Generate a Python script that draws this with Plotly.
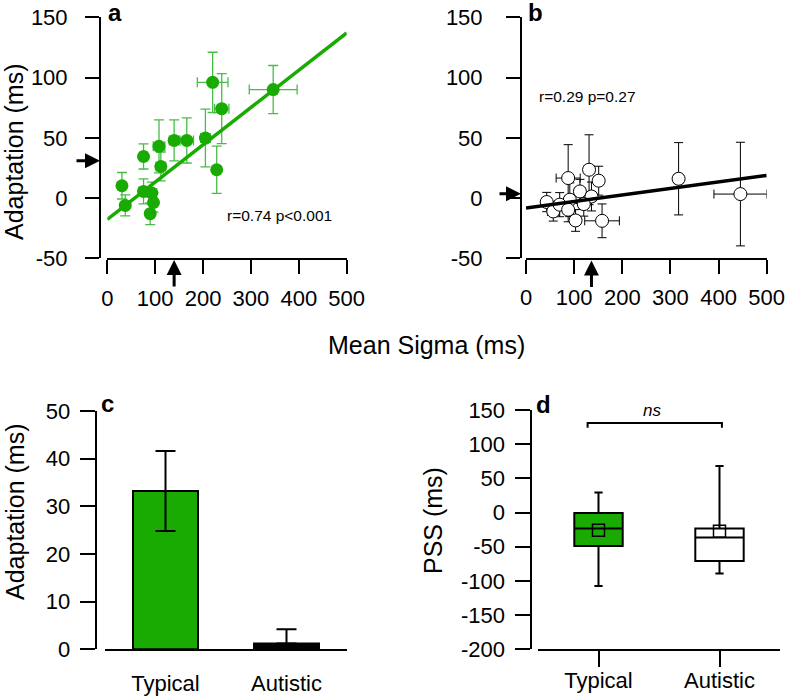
import plotly.graph_objects as go

# ---------------- data ----------------
# panel a (typical)
a_x = [30.6, 37.5, 75.7, 75.7, 93, 96.5, 89.6, 108, 111.8, 139.6, 166, 204.9, 228.5, 220, 239, 346.5]
a_y = [10.2, -6.1, 34.5, 5.5, 4.2, -3.7, -13, 42.9, 26.2, 47.8, 47.8, 49.8, 23.5, 96, 74.2, 90]
a_yerr = [11, 8.7, 10.4, 10.4, 9, 8, 9, 22, 12, 17, 18.7, 24, 19.6, 25, 29, 20]
a_xerr = [0, 0, 8, 10, 10, 8, 0, 12, 10, 10, 14, 10, 0, 32, 15, 50]
a_fit_x = [0, 500]
a_fit_y = [-17.7, 137]
a_arrow_x = 139.6
a_arrow_y = 31

# panel b (autistic)
b_x = [43, 56.6, 87.6, 131, 151, 103, 158, 112, 136, 91, 70, 87.6, 120, 317, 445.4]
b_y = [-3.3, -11.1, 16.6, 23.5, 14.4, -18.6, -18.9, 5.5, 1.3, -1.4, -5.5, -9.7, -5, 16, 3.3]
b_yerr = [8, 8, 27.7, 29, 12, 9, 14, 10, 12, 14, 10, 10, 10, 30, 43]
b_xerr = [10, 12, 25, 10, 10, 10, 36, 10, 10, 10, 10, 10, 10, 10, 55]
b_fit_x = [0, 500]
b_fit_y = [-8.3, 18.8]
b_arrow_x = 136
b_arrow_y = 3.5

# panel c
groups = ["Typical", "Autistic"]
c_mean = [33.2, 1.2]
c_err_plus = [8.4, 3.0]
c_err_minus = [8.4, 0.0]

# panel d (box stats)
d_q1 = [-48.8, -70.7]
d_median = [-23.4, -36.5]
d_q3 = [-0.6, -23.4]
d_low = [-107.3, -89]
d_high = [29.2, 68]
d_mean = [-25.9, -27.3]
ns_bracket_x = [-0.09, -0.09, 1.02, 1.02]
ns_bracket_y = [124, 131, 131, 124]

# tick labels
xticks_sigma = [0, 100, 200, 300, 400, 500]
yticks_ab = [-50, 0, 50, 100, 150]
yticks_ab_text = ['-50', '0', '50', '100', '150']
yticks_c = [0, 10, 20, 30, 40, 50]
yticks_d = [-200, -150, -100, -50, 0, 50, 100, 150]
yticks_d_text = ['-200', '-150', '-100', '-50', '0', '50', '100', '150']

# ---------------- style ----------------
GREEN = '#1aab02'
ERR_GREEN = '#47bd47'
FONT = 'Liberation Sans, Arial, sans-serif'
W, H = 787, 699


def px(x):
    return x / W


def py(y):
    return 1 - y / H


fig = go.Figure()

# panel a
fig.add_trace(go.Scatter(
    x=a_x, y=a_y, mode='markers', xaxis='x', yaxis='y',
    marker=dict(size=13, color=GREEN),
    error_y=dict(type='data', array=a_yerr, color=ERR_GREEN, thickness=1.3, width=5),
    error_x=dict(type='data', array=a_xerr, color=ERR_GREEN, thickness=1.3, width=5),
))
fig.add_trace(go.Scatter(x=a_fit_x, y=a_fit_y, mode='lines', xaxis='x', yaxis='y',
                         line=dict(color=GREEN, width=3.5)))

# panel b
fig.add_trace(go.Scatter(
    x=b_x, y=b_y, mode='markers', xaxis='x2', yaxis='y2',
    marker=dict(size=13, color='white', line=dict(color='black', width=1)),
    error_y=dict(type='data', array=b_yerr, color='black', thickness=1, width=4.5),
    error_x=dict(type='data', array=b_xerr, color='black', thickness=1, width=4.5),
))
fig.add_trace(go.Scatter(x=b_fit_x, y=b_fit_y, mode='lines', xaxis='x2', yaxis='y2',
                         line=dict(color='black', width=3.5)))

# panel c
fig.add_trace(go.Bar(
    x=[0, 1], y=c_mean, width=0.537, xaxis='x3', yaxis='y3',
    marker=dict(color=[GREEN, 'black'], line=dict(color='black', width=2)),
    error_y=dict(type='data', array=c_err_plus, arrayminus=c_err_minus,
                 color='black', thickness=2, width=10),
))

# panel d
fills = [GREEN, 'white']
for i in range(2):
    fig.add_trace(go.Box(
        x=[i], q1=[d_q1[i]], median=[d_median[i]], q3=[d_q3[i]],
        lowerfence=[d_low[i]], upperfence=[d_high[i]],
        xaxis='x4', yaxis='y4', width=0.4, whiskerwidth=0.17,
        fillcolor=fills[i], line=dict(color='black', width=2), boxpoints=False,
    ))
fig.add_trace(go.Scatter(
    x=[0, 1], y=d_mean, mode='markers', xaxis='x4', yaxis='y4',
    marker=dict(symbol='square-open', size=12, color='black', line=dict(width=1.5)),
))
fig.add_trace(go.Scatter(x=ns_bracket_x, y=ns_bracket_y, mode='lines', xaxis='x4', yaxis='y4',
                         line=dict(color='black', width=2)))

tickfont = dict(family=FONT, size=22, color='black')
common = dict(showgrid=False, zeroline=False, showline=True, linecolor='black', linewidth=2,
              ticks='outside', tickwidth=2, tickcolor='black', tickfont=tickfont,
              automargin=False)

fig.update_layout(
    template='none',
    width=W, height=H, margin=dict(l=0, r=0, t=0, b=0, pad=0), autosize=False,
    paper_bgcolor='white', plot_bgcolor='white', showlegend=False,
    font=dict(family=FONT, color='black'),
    xaxis=dict(common, domain=[px(107.3), px(346.7)], range=[0, 500], anchor='y',
               tickvals=xticks_sigma, ticklen=14, ticklabelstandoff=5),
    yaxis=dict(common, domain=[py(258.3), py(17.3)], range=[-50, 150], anchor='free',
               position=px(100), tickvals=yticks_ab, ticktext=yticks_ab_text,
               ticklen=14, ticklabelstandoff=13),
    xaxis2=dict(common, domain=[px(526), px(766.7)], range=[0, 500], anchor='y2',
                tickvals=xticks_sigma, ticklen=14, ticklabelstandoff=4),
    yaxis2=dict(common, domain=[py(258.3), py(17.3)], range=[-50, 150], anchor='free',
                position=px(521), tickvals=yticks_ab, ticktext=yticks_ab_text,
                ticklen=14, ticklabelstandoff=19),
    xaxis3=dict(common, domain=[px(105), px(347)], range=[-0.5, 1.5], anchor='y3',
                tickvals=[0, 1], ticktext=groups, ticks='', ticklabelstandoff=13),
    yaxis3=dict(common, domain=[py(649.3), py(411)], range=[0, 50], anchor='free',
                position=px(95.7), tickvals=yticks_c, ticklen=15, ticklabelstandoff=5),
    xaxis4=dict(common, domain=[px(538), px(780)], range=[-0.5, 1.5], anchor='y4',
                tickvals=[0, 1], ticktext=groups, ticklen=16, ticklabelstandoff=-6),
    yaxis4=dict(common, domain=[py(649.3), py(410)], range=[-200, 150], anchor='free',
                position=px(530.5), tickvals=yticks_d, ticktext=yticks_d_text,
                ticklen=15, ticklabelstandoff=5),
)

ann = []
C = dict(xanchor='center', yanchor='middle', showarrow=False)
title_font = dict(family=FONT, size=25, color='black')
ann.append(dict(C, text='Adaptation (ms)', x=px(14), y=py(152), xref='paper', yref='paper',
                textangle=-90, font=title_font))
ann.append(dict(C, text='Mean Sigma (ms)', x=px(426.6), y=py(345), xref='paper', yref='paper',
                font=title_font))
ann.append(dict(C, text='Adaptation (ms)', x=px(15), y=py(512), xref='paper', yref='paper',
                textangle=-90, font=title_font))
ann.append(dict(C, text='PSS (ms)', x=px(433), y=py(521), xref='paper', yref='paper',
                textangle=-90, font=title_font))
letter_font = dict(family=FONT, size=24, color='black')
for t, (lx, ly) in zip(['a', 'b', 'c', 'd'], [(115, 12), (535, 12), (107, 403), (543, 404)]):
    ann.append(dict(C, text='<b>%s</b>' % t, x=px(lx), y=py(ly), xref='paper', yref='paper',
                    font=letter_font))
small = dict(family=FONT, size=15.5, color='black')
ann.append(dict(C, text='r=0.74 p<0.001', x=px(279), y=py(215), xref='paper', yref='paper',
                font=small))
ann.append(dict(C, text='r=0.29 p=0.27', x=px(587.5), y=py(96), xref='paper', yref='paper',
                font=small))
ann.append(dict(C, text='<i>ns</i>', x=0.44, y=150, xref='x4', yref='y4',
                font=dict(family=FONT, size=17, color='black')))
# arrows
arrow = dict(text='', showarrow=True, arrowhead=2, arrowwidth=3, arrowsize=1,
             arrowcolor='black', standoff=0)
ann.append(dict(arrow, x=px(100), y=a_arrow_y, xref='paper', yref='y', ax=-25, ay=0))
ann.append(dict(arrow, x=a_arrow_x, y=py(260), xref='x', yref='paper', ax=0, ay=28))
ann.append(dict(arrow, x=px(521), y=b_arrow_y, xref='paper', yref='y2', ax=-23, ay=0))
ann.append(dict(arrow, x=b_arrow_x, y=py(260.5), xref='x2', yref='paper', ax=0, ay=28))
fig.update_layout(annotations=ann)

fig.write_html('out.html', config={'displayModeBar': False},
               post_script="document.body.style.margin='0';document.body.style.overflow='hidden';")
